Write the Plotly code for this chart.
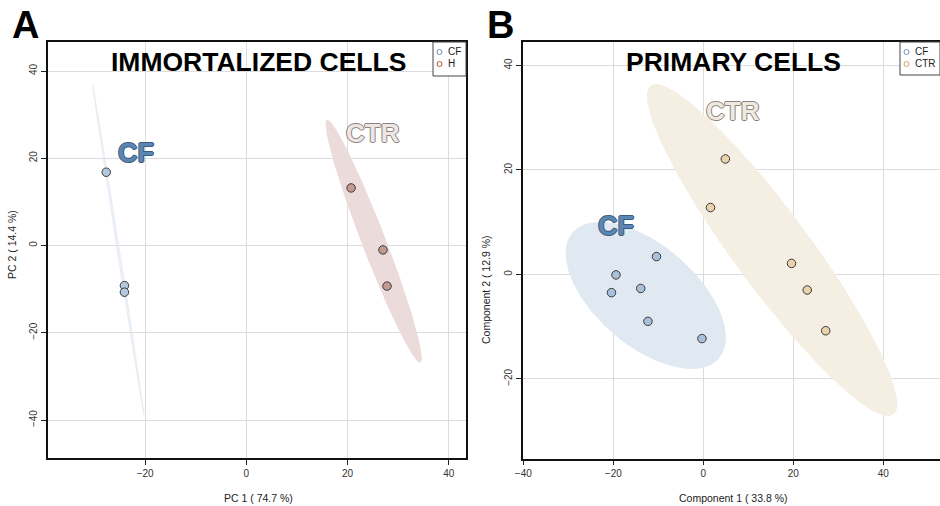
import numpy as np
import plotly.graph_objects as go

# ---- data: immortalized cells (PCA) ----
imm_groups = ["CF", "H"]
imm_cf_x = [-27.7, -24.1, -24.1]
imm_cf_y = [16.8, -9.2, -10.7]
imm_h_x = [20.7, 27.0, 27.8]
imm_h_y = [13.2, -1.0, -9.3]

# ---- data: primary cells (PLS-DA components) ----
pri_groups = ["CF", "CTR"]
pri_cf_x = [-19.4, -20.4, -13.9, -10.4, -12.3, -0.3]
pri_cf_y = [-0.1, -3.5, -2.7, 3.4, -9.0, -12.3]
pri_ctr_x = [4.9, 1.6, 19.6, 23.1, 27.2]
pri_ctr_y = [22.1, 12.8, 2.1, -3.0, -10.8]

imm_xticks = [-20, 0, 20, 40]
imm_yticks = [-40, -20, 0, 20, 40]
pri_xticks = [-40, -20, 0, 20, 40]
pri_yticks = [-20, 0, 20, 40]

CHI2_95 = 5.991  # qchisq(0.95, df=2)


def conf_ellipse(x, y, n=200):
    """95% confidence ellipse from the sample covariance of the points."""
    pts = np.column_stack([x, y])
    centre = pts.mean(axis=0)
    cov = np.cov(pts, rowvar=False)
    vals, vecs = np.linalg.eigh(cov)
    vals = np.clip(vals, 0, None)
    t = np.linspace(0, 2 * np.pi, n)
    circle = np.vstack([np.cos(t), np.sin(t)])
    shape = vecs @ (np.sqrt(vals * CHI2_95)[:, None] * circle)
    return centre[0] + shape[0], centre[1] + shape[1]


fig = go.Figure()

FONT = "Liberation Sans, Arial, sans-serif"
EDGE = "#3a3a3a"


def add_group(x, y, fill, line, marker_col, name, xa, ya, ell_line_w=0):
    ex, ey = conf_ellipse(x, y)
    fig.add_trace(go.Scatter(
        x=ex, y=ey, mode="lines", fill="toself", fillcolor=fill,
        line=dict(color=line, width=ell_line_w), hoverinfo="skip",
        showlegend=False, xaxis=xa, yaxis=ya))
    fig.add_trace(go.Scatter(
        x=x, y=y, mode="markers", name=name, showlegend=False,
        marker=dict(size=8.5, color=marker_col, line=dict(color=EDGE, width=1)),
        xaxis=xa, yaxis=ya))


# immortalized panel
add_group(imm_cf_x, imm_cf_y, "rgba(220,230,240,0.5)", "rgba(222,231,241,0.85)",
          "#b4c9de", "CF", "x", "y", ell_line_w=0.7)
add_group(imm_h_x, imm_h_y, "#ebdcdb", "#ebdcdb", "#c29a90", "H", "x", "y")
# primary panel
add_group(pri_cf_x, pri_cf_y, "#e0e8f1", "#e0e8f1", "#a9c0da", "CF", "x2", "y2")
add_group(pri_ctr_x, pri_ctr_y, "#f4eee3", "#f4eee3", "#ebd2ad", "CTR", "x2", "y2")

# ---- axes ----
grid = "#dcdcdc"
common_x = dict(showgrid=True, gridcolor=grid, gridwidth=1, zeroline=False,
                ticks="outside", ticklen=5, tickwidth=1, tickcolor="#222",
                showline=True, linecolor="#111", linewidth=1.6, mirror=True,
                automargin=False,
                tickfont=dict(family=FONT, size=10, color="#333"))
common_y = dict(common_x, tickangle=-90)

fig.update_layout(
    width=940, height=506,
    margin=dict(l=0, r=0, t=0, b=0, pad=0, autoexpand=False),
    paper_bgcolor="white", plot_bgcolor="white", showlegend=False,
    xaxis=dict(common_x, domain=[0.0511, 0.4957], range=[-39.2, 43.4],
               tickvals=imm_xticks, anchor="y"),
    yaxis=dict(common_y, domain=[0.0949, 0.917], range=[-48.7, 46.65],
               tickvals=imm_yticks, anchor="x"),
    xaxis2=dict(common_x, domain=[0.5567, 1.0], range=[-40, 52.6],
                tickvals=pri_xticks, anchor="y2"),
    yaxis2=dict(common_y, domain=[0.0935, 0.917], range=[-35.3, 44.5],
                tickvals=pri_yticks, anchor="x2"),
)

ann = []


def text(x, y, s, size, color="black", xref="paper", yref="paper", shadow=None,
         angle=0, bold=False):
    t = "<b>%s</b>" % s if bold else s
    ann.append(dict(x=x, y=y, xref=xref, yref=yref, text=t, showarrow=False,
                    textangle=angle, xanchor="center", yanchor="middle",
                    font=dict(family=FONT, size=size, color=color,
                              **({"shadow": shadow} if shadow else {}))))


def outline(c):
    return ("1px 0 0 %s, -1px 0 0 %s, 0 1px 0 %s, 0 -1px 0 %s") % ((c,) * 4)


# panel letters and titles
text(25 / 940, 1 - 25 / 506, "A", 38, bold=True)
text(500 / 940, 1 - 25 / 506, "B", 38, bold=True)
text(258 / 940, 1 - 62 / 506, "IMMORTALIZED CELLS", 26.5, bold=True)
text(733 / 940, 1 - 62 / 506, "PRIMARY CELLS", 26.5, bold=True)

# group labels inside the plots
text(-21.9, 21.3, "CF", 27, "#5b86b3", "x", "y", outline("#3d5c7c"), bold=True)
text(25.0, 25.7, "CTR", 26, "#efe6e4", "x", "y", outline("#8a8282"), bold=True)
text(-19.5, 9.3, "CF", 27, "#5b86b3", "x2", "y2", outline("#3d5c7c"), bold=True)
text(6.5, 31.3, "CTR", 26, "#efe8dc", "x2", "y2", outline("#8a8480"), bold=True)

# axis titles
text(258 / 940, 1 - 498 / 506, "PC 1 ( 74.7 %)", 10.5, "#222")
text(12 / 940, 1 - 245 / 506, "PC 2 ( 14.4 %)", 10.5, "#222", angle=-90)
text(733 / 940, 1 - 498 / 506, "Component 1 ( 33.8 %)", 10.5, "#222")
text(486 / 940, 1 - 290 / 506, "Component 2 ( 12.9 %)", 10.5, "#222", angle=-90)

# legends
legend_items = [
    (433, 42, 466, 76, imm_groups, ["#6f93bd", "#b0503f"]),
    (900, 42, 940, 75, pri_groups, ["#6f93bd", "#d9a060"]),
]
shapes = []
for x0, y0, x1, y1, names, cols in legend_items:
    shapes.append(dict(type="rect", xref="paper", yref="paper",
                       x0=x0 / 940, x1=x1 / 940, y0=1 - y1 / 506, y1=1 - y0 / 506,
                       line=dict(color="#444", width=1), fillcolor="white", layer="above"))
    for i, (nm, c) in enumerate(zip(names, cols)):
        cy = y0 + 10 + i * 12
        shapes.append(dict(type="circle", xref="paper", yref="paper",
                           x0=(x0 + 4) / 940, x1=(x0 + 9) / 940,
                           y0=1 - (cy + 2.5) / 506, y1=1 - (cy - 2.5) / 506,
                           line=dict(color=c, width=1), layer="above"))
        ann.append(dict(x=(x0 + 13) / 940, y=1 - cy / 506, xref="paper", yref="paper",
                        text=nm, showarrow=False, xanchor="left", yanchor="middle",
                        font=dict(family=FONT, size=10, color="#222")))

fig.update_layout(annotations=ann, shapes=shapes)
fig.write_html("out.html")
